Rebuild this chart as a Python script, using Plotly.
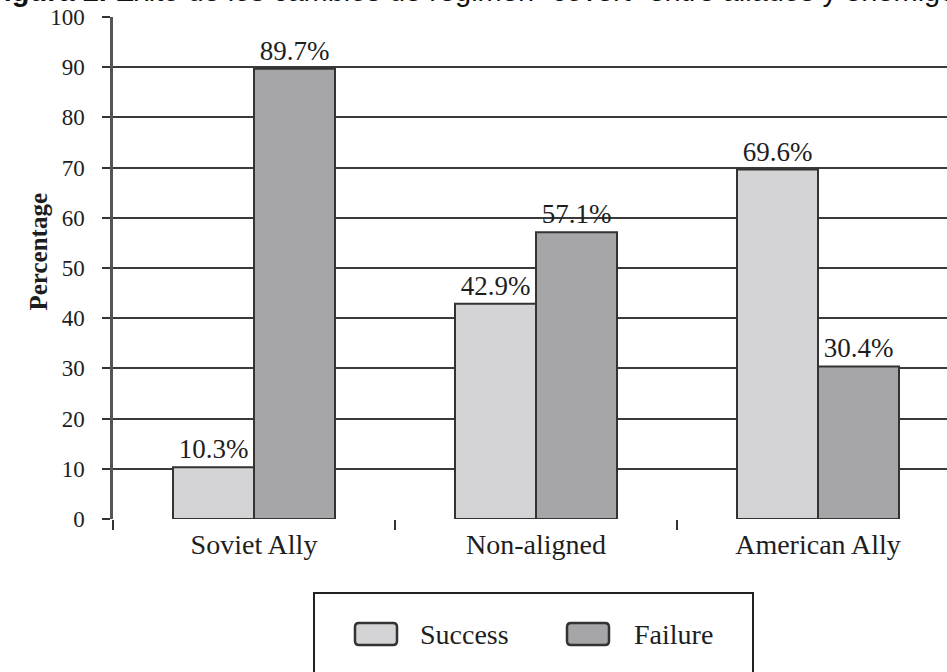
import plotly.graph_objects as go

# Data
categories = ["Soviet Ally", "Non-aligned", "American Ally"]
success = [10.3, 42.9, 69.6]
failure = [89.7, 57.1, 30.4]
series_names = ["Success", "Failure"]
y_ticks = [0, 10, 20, 30, 40, 50, 60, 70, 80, 90, 100]

# Page geometry (pixels)
W, H = 947, 672
L, R, T, B = 113, 947, 17, 519


def fx(px):
    return (px - L) / (R - L)


def fy(py):
    return (B - py) / (B - T)


SERIF = "Liberation Serif"
INK = "#1e1e1e"
EDGE = "#333333"
FILLS = ["#d4d4d6", "#a6a6a9"]

fig = go.Figure()
for name, vals, fill in zip(series_names, [success, failure], FILLS):
    fig.add_trace(go.Bar(
        name=name,
        x=categories,
        y=vals,
        marker=dict(color=fill, line=dict(color=EDGE, width=2)),
        texttemplate="%{y:.1f}%",
        textposition="outside",
        textfont=dict(family=SERIF, size=27, color=INK),
        cliponaxis=False,
        showlegend=False,
    ))

# Category band is 282 px wide; plot area spans 834 px
band = 282
fig.update_layout(
    width=W, height=H,
    margin=dict(l=L, r=W - R, t=T, b=H - B, autoexpand=False),
    paper_bgcolor="white", plot_bgcolor="white",
    barmode="group", bargap=1 - 162 / band, bargroupgap=0,
    font=dict(family=SERIF, color=INK),
    xaxis=dict(
        range=[-0.5, -0.5 + (R - L) / band],
        showgrid=False, showline=False, zeroline=False,
        ticks="outside", tickson="boundaries", ticklen=10, tickwidth=2,
        tickcolor=EDGE, ticklabelstandoff=6,
        tickfont=dict(family=SERIF, size=28, color=INK),
    ),
    yaxis=dict(
        range=[0, 100], tickvals=y_ticks,
        showgrid=True, gridcolor="#3a3a3a", gridwidth=1.6,
        showline=True, linecolor="#555555", linewidth=2.5,
        zeroline=False,
        ticks="outside", ticklen=8, tickwidth=2, tickcolor=EDGE,
        ticklabelstandoff=13,
        tickfont=dict(family=SERIF, size=23, color=INK),
    ),
)

# Axis title
fig.add_annotation(
    text="<b>Percentage</b>", xref="paper", yref="paper",
    x=fx(22), y=fy(252), textangle=-90, showarrow=False,
    font=dict(family=SERIF, size=25, color=INK),
)

# Figure caption along the top edge (runs off the page top)
fig.add_annotation(
    text="<b>Figura 2.</b> Éxito de los cambios de régimen “covert” entre aliados y enemigos",
    xref="paper", yref="paper", x=fx(-16), y=fy(9),
    xanchor="left", yanchor="bottom", showarrow=False,
    font=dict(family="Liberation Sans", size=29, color="#111111"),
)

# Legend box with swatches
shapes = [dict(
    type="rect", xref="paper", yref="paper",
    x0=fx(314), x1=fx(753), y0=fy(593), y1=fy(720),
    line=dict(color="#222222", width=2), fillcolor="rgba(0,0,0,0)",
)]


def rounded(x0, y0, x1, y1, r=4):
    rx, ry = r / (R - L), r / (B - T)
    a0, a1, b0, b1 = fx(x0), fx(x1), fy(y1), fy(y0)
    return (f"M{a0+rx},{b0} L{a1-rx},{b0} Q{a1},{b0} {a1},{b0+ry} "
            f"L{a1},{b1-ry} Q{a1},{b1} {a1-rx},{b1} L{a0+rx},{b1} "
            f"Q{a0},{b1} {a0},{b1-ry} L{a0},{b0+ry} Q{a0},{b0} {a0+rx},{b0} Z")


legend_items = [(355, 418), (567, 632)]
for (sx, tx), name, fill in zip(legend_items, series_names, FILLS):
    shapes.append(dict(
        type="path", xref="paper", yref="paper",
        path=rounded(sx, 623, sx + 42, 645),
        line=dict(color="#333333", width=2.5), fillcolor=fill,
    ))
    fig.add_annotation(
        text=name, xref="paper", yref="paper", x=fx(tx), y=fy(634),
        xanchor="left", yanchor="middle", showarrow=False,
        font=dict(family=SERIF, size=28, color=INK),
    )
fig.update_layout(shapes=shapes)

fig.write_html("out.html")
